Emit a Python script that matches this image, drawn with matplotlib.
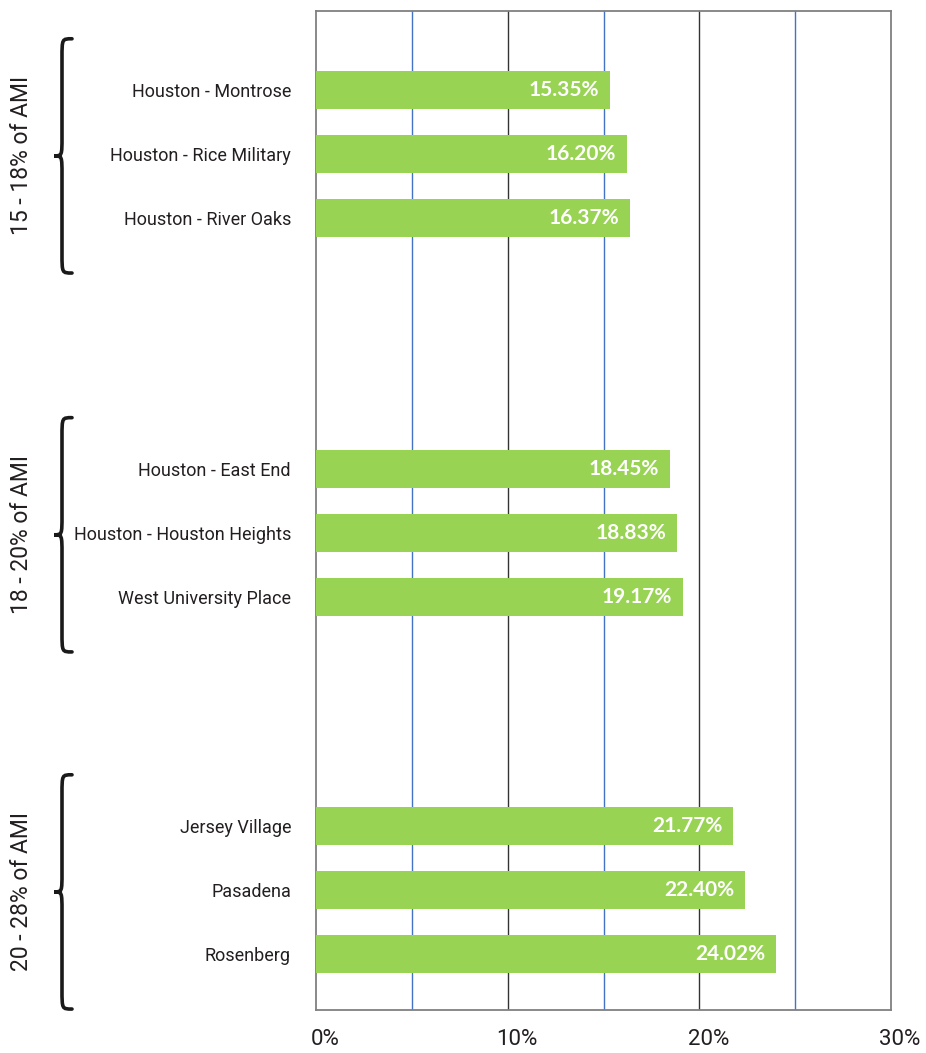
import matplotlib
matplotlib.use("Agg")
import matplotlib.pyplot as plt
import matplotlib.transforms as mtransforms
from matplotlib.path import Path
from matplotlib.patches import PathPatch

# data
groups = ["15 - 18% of AMI", "18 - 20% of AMI", "20 - 28% of AMI"]
areas = [
    ["Houston - Montrose", "Houston - Rice Military", "Houston - River Oaks"],
    ["Houston - East End", "Houston - Houston Heights", "West University Place"],
    ["Jersey Village", "Pasadena", "Rosenberg"],
]
values = [
    [15.35, 16.20, 16.37],
    [18.45, 18.83, 19.17],
    [21.77, 22.40, 24.02],
]
xticks = [0, 10, 20, 30]
xtick_labels = ["0%", "10%", "20%", "30%"]

# layout: row offsets where each group starts
group_start = [0, 5.92, 11.5]

FONT = ["Roboto", "DejaVu Sans"]
TXT = "#231F20"
GREEN = "#99D354"

fig = plt.figure(figsize=(9.26, 10.53), dpi=100)
ax = fig.add_axes([316 / 926, 1 - 1010 / 1053, 575 / 926, 999 / 1053])

ypos, labels, vals = [], [], []
for g0, names, vs in zip(group_start, areas, values):
    for i, (n, v) in enumerate(zip(names, vs)):
        ypos.append(g0 + i)
        labels.append(n)
        vals.append(v)

ax.barh(ypos, vals, height=0.59, color=GREEN, zorder=3)
for y, v in zip(ypos, vals):
    ax.annotate(f"{v:.2f}%", (v, y), xytext=(-11, 0), textcoords="offset pixels",
                ha="right", va="center", color="white", fontsize=15,
                fontweight="bold", family=["Lato", "DejaVu Sans"], zorder=4)

# vertical grid: blue at 5/15/25, dark at 10/20
for gx in [5, 15, 25]:
    ax.axvline(gx, color="#4472C4", lw=1.0, zorder=1)
for gx in [10, 20]:
    ax.axvline(gx, color="#333333", lw=1.0, zorder=1)

ax.set_xlim(0, 30)
ax.set_ylim(14.375, -1.234)
ax.set_xticks(xticks)
ax.set_xticklabels(xtick_labels, family=FONT, fontsize=16, color=TXT)
ax.set_yticks(ypos)
ax.set_yticklabels(labels, family=FONT, fontsize=13, color=TXT)
ax.tick_params(axis="both", length=0)
ax.tick_params(axis="y", pad=18)
ax.tick_params(axis="x", pad=14)
shift = mtransforms.ScaledTranslation(9 / 100, 0, fig.dpi_scale_trans)
for lab in ax.get_xticklabels():
    lab.set_transform(lab.get_transform() + shift)
for s in ax.spines.values():
    s.set_color("#808080")
    s.set_linewidth(1.3)

# braces + group labels (x in figure fraction, y in data)
tr = mtransforms.blended_transform_factory(fig.transFigure, ax.transData)
x_end, x_stem, x_tip = 72 / 926, 62 / 926, 54 / 926
for g0, names, name in zip(group_start, areas, groups):
    y0 = g0 - 0.8
    y1 = g0 + len(names) - 1 + 0.86
    ym = (y0 + y1) / 2
    d = 0.3
    verts = [
        (x_end, y0), (x_stem, y0), (x_stem, y0), (x_stem, y0 + d),
        (x_stem, ym - d),
        (x_stem, ym), (x_stem, ym), (x_tip, ym),
        (x_stem, ym), (x_stem, ym), (x_stem, ym + d),
        (x_stem, y1 - d),
        (x_stem, y1), (x_stem, y1), (x_end, y1),
    ]
    codes = [Path.MOVETO, Path.CURVE4, Path.CURVE4, Path.CURVE4,
             Path.LINETO,
             Path.CURVE4, Path.CURVE4, Path.CURVE4,
             Path.CURVE4, Path.CURVE4, Path.CURVE4,
             Path.LINETO,
             Path.CURVE4, Path.CURVE4, Path.CURVE4]
    fig.add_artist(PathPatch(Path(verts, codes), transform=tr, fill=False,
                             lw=2.6, edgecolor="#1A1A1A", capstyle="round"))
    fig.text(22 / 926, ym, name, transform=tr, rotation=90, ha="center",
             va="center", family=FONT, fontsize=16.5, color=TXT)

fig.savefig("out.png", dpi=100)
